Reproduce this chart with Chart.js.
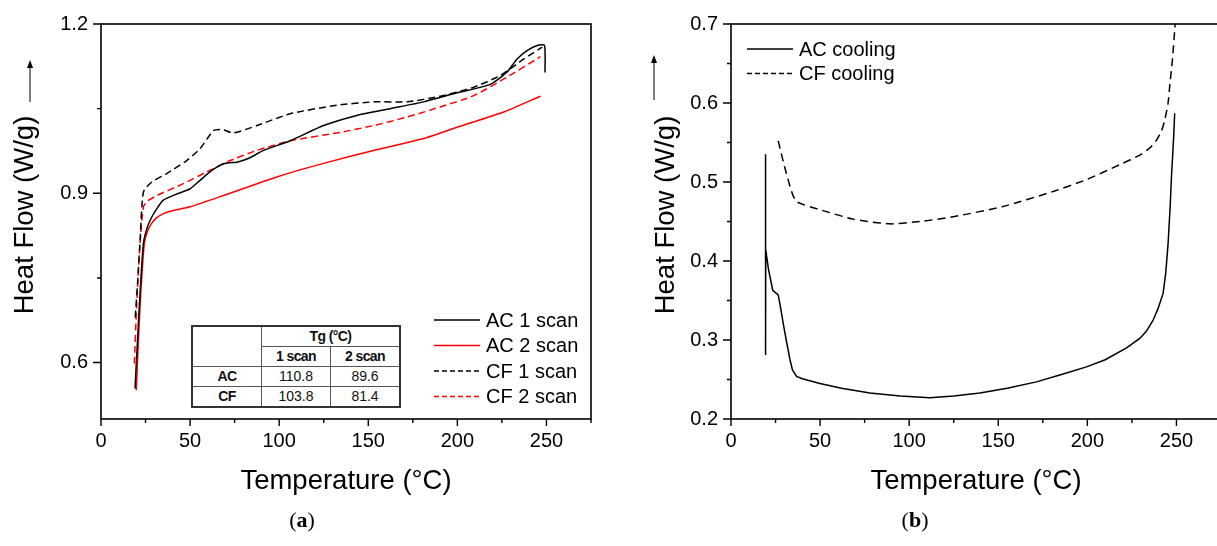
<!DOCTYPE html>
<html>
<head>
<meta charset="utf-8">
<script src="https://cdn.jsdelivr.net/npm/chart.js@4.4.1/dist/chart.umd.min.js"></script>
<style>
  html, body { margin: 0; padding: 0; background: #fff; }
  body { position: relative; width: 1217px; height: 546px; overflow: hidden; font-family: "Liberation Sans", Arial, sans-serif; }
  canvas { position: absolute; top: 0; }
  #chartA { left: 0; }
  #chartB { left: 630px; }
  .panel-label { position: absolute; top: 507px; transform: translateX(-50%); font-family: "Liberation Serif", "DejaVu Serif", serif; font-size: 22px; color: #000; }
  #tg { position: absolute; left: 191px; top: 325px; border-collapse: collapse; border: 2px solid #333; font-size: 14px; color: #111; background: #fff; }
  #tg td { border: 1px solid #555; width: 68px; height: 19px; padding: 0; text-align: center; line-height: 19px; }
  #tg .h { font-weight: bold; letter-spacing: -0.6px; }
</style>
</head>
<body>
<canvas id="chartA" width="610" height="546"></canvas>
<canvas id="chartB" width="610" height="546"></canvas>

<table id="tg">
  <tr><td rowspan="2"></td><td colspan="2" class="h">Tg (°C)</td></tr>
  <tr><td class="h">1 scan</td><td class="h">2 scan</td></tr>
  <tr><td class="h">AC</td><td>110.8</td><td>89.6</td></tr>
  <tr><td class="h">CF</td><td>103.8</td><td>81.4</td></tr>
</table>

<div class="panel-label" style="left:302px">(<b>a</b>)</div>
<div class="panel-label" style="left:915px">(<b>b</b>)</div>

<script>
// ---- panel (a): heating scans ----
const ac1Temp = [19.1, 20.5, 21.9, 23.8, 26, 28.5, 32, 35, 42, 50, 55.6, 62, 67.8, 72, 76.2, 83, 91.2, 106.2, 124.9, 143.6, 162.4, 181.1, 199.8, 218.5, 227.9, 233.5, 239.1, 244.8, 248.9, 249.2];
const ac1Flow = [0.554, 0.64, 0.722, 0.811, 0.84, 0.858, 0.876, 0.888, 0.898, 0.908, 0.923, 0.94, 0.951, 0.954, 0.955, 0.962, 0.976, 0.993, 1.020, 1.038, 1.050, 1.062, 1.078, 1.093, 1.115, 1.138, 1.153, 1.162, 1.162, 1.114];

const ac2Temp = [19.8, 21, 22.3, 24.3, 26, 28, 31, 35, 40, 50, 68.7, 98.7, 124.9, 153, 181.1, 199.8, 226, 246.6];
const ac2Flow = [0.551, 0.64, 0.722, 0.811, 0.832, 0.845, 0.856, 0.864, 0.869, 0.876, 0.896, 0.929, 0.953, 0.976, 0.997, 1.017, 1.044, 1.072];

const cf1Temp = [19.2, 20.5, 22, 23.8, 28.5, 36.9, 48.1, 55.6, 63.1, 67.8, 74.3, 87.5, 106.2, 132.4, 153, 171.7, 190.4, 209.2, 224.2, 237.3, 247.6];
const cf1Flow = [0.68, 0.74, 0.82, 0.902, 0.920, 0.935, 0.958, 0.979, 1.011, 1.013, 1.007, 1.020, 1.041, 1.056, 1.062, 1.062, 1.072, 1.088, 1.109, 1.138, 1.159];

const cf2Temp = [18.7, 20, 21.9, 23.8, 26, 31.3, 46.2, 59.4, 72.5, 87.5, 106.2, 134.3, 153, 171.7, 190.4, 209.2, 227.9, 246.6];
const cf2Flow = [0.598, 0.70, 0.811, 0.876, 0.886, 0.896, 0.917, 0.938, 0.958, 0.976, 0.993, 1.008, 1.020, 1.035, 1.053, 1.073, 1.106, 1.142];

// ---- panel (b): cooling ----
const acCoolTemp = [249, 248.5, 247.9, 247.2, 246.5, 245.3, 244, 242.5, 239.7, 236.9, 233.1, 229.4, 222, 210, 199.5, 185, 171.4, 155, 139.7, 125, 111.6, 95, 78, 62, 49.9, 40, 36.8, 34.5, 33.1, 31, 29.3, 27.5, 26.5, 23.4, 21, 19.5, 19.4, 19.4];
const acCoolFlow = [0.587, 0.56, 0.535, 0.507, 0.47, 0.422, 0.385, 0.359, 0.340, 0.325, 0.311, 0.302, 0.290, 0.275, 0.266, 0.256, 0.247, 0.239, 0.233, 0.229, 0.227, 0.229, 0.233, 0.239, 0.245, 0.251, 0.254, 0.262, 0.275, 0.300, 0.321, 0.345, 0.357, 0.363, 0.390, 0.414, 0.535, 0.281];

const cfCoolTemp = [26.5, 30, 34, 36.8, 49.9, 68.6, 89.2, 106, 124.7, 152.7, 180.8, 199.5, 218.2, 229.4, 235, 238.8, 241.5, 243.4, 245.3, 246.2, 247.7, 249, 249.8];
const cfCoolFlow = [0.552, 0.52, 0.488, 0.475, 0.465, 0.453, 0.447, 0.450, 0.456, 0.469, 0.488, 0.503, 0.522, 0.534, 0.543, 0.553, 0.564, 0.578, 0.600, 0.621, 0.654, 0.692, 0.72];

// ---- ticks ----
const xTicks = [0, 25, 50, 75, 100, 125, 150, 175, 200, 225, 250, 275];
const xLabels = ['0', '', '50', '', '100', '', '150', '', '200', '', '250', ''];
const aYTicks = [0.6, 0.75, 0.9, 1.05, 1.2];
const aYLabels = ['0.6', '', '0.9', '', '1.2'];
const bYTicks = [0.2, 0.25, 0.3, 0.35, 0.4, 0.45, 0.5, 0.55, 0.6, 0.65, 0.7];
const bYLabels = ['0.2', '', '0.3', '', '0.4', '', '0.5', '', '0.6', '', '0.7'];

Chart.defaults.font.family = '"Liberation Sans", Arial, Helvetica, sans-serif';
Chart.defaults.color = '#000';

function zip(xs, ys) {
  return xs.map((x, i) => ({ x, y: ys[i] }));
}

// frame, tick marks, y title with arrow, legend
const panelDecor = {
  id: 'panelDecor',
  afterDraw(chart, args, o) {
    const { ctx, chartArea: a, scales: { x, y } } = chart;
    ctx.save();
    ctx.strokeStyle = '#000';
    ctx.fillStyle = '#000';

    // tick marks (labelled ones longer)
    ctx.lineWidth = 1.4;
    ctx.beginPath();
    x.ticks.forEach(t => {
      const px = x.getPixelForValue(t.value);
      ctx.moveTo(px, a.bottom);
      ctx.lineTo(px, a.bottom + (t.label ? 7 : 4));
    });
    y.ticks.forEach(t => {
      const py = y.getPixelForValue(t.value);
      ctx.moveTo(a.left, py);
      ctx.lineTo(a.left - (t.label ? 8 : 4), py);
    });
    ctx.stroke();

    // box
    ctx.lineWidth = 1.6;
    ctx.strokeRect(a.left, a.top, a.right - a.left, a.bottom - a.top);

    // y title
    ctx.save();
    ctx.translate(o.titleX, 215);
    ctx.rotate(-Math.PI / 2);
    ctx.font = '27.5px "Liberation Sans", Arial, sans-serif';
    ctx.textAlign = 'center';
    ctx.textBaseline = 'middle';
    ctx.fillText('Heat Flow (W/g)', 0, 0);
    ctx.restore();

    // arrow
    ctx.lineWidth = 1;
    ctx.beginPath();
    ctx.moveTo(o.arrowX, o.arrowBottom);
    ctx.lineTo(o.arrowX, o.arrowTop + 6);
    ctx.stroke();
    ctx.beginPath();
    ctx.moveTo(o.arrowX, o.arrowTop);
    ctx.lineTo(o.arrowX - 3, o.arrowTop + 8);
    ctx.lineTo(o.arrowX + 3, o.arrowTop + 8);
    ctx.closePath();
    ctx.fill();

    // legend
    const L = o.legend;
    ctx.font = '20px "Liberation Sans", Arial, sans-serif';
    ctx.textAlign = 'left';
    ctx.textBaseline = 'middle';
    chart.data.datasets.forEach((ds, i) => {
      const ly = L.y + i * L.gap;
      ctx.strokeStyle = ds.borderColor;
      ctx.lineWidth = 1.5;
      ctx.setLineDash(ds.borderDash ? L.dash : []);
      ctx.beginPath();
      ctx.moveTo(L.x, ly);
      ctx.lineTo(L.x + L.len, ly);
      ctx.stroke();
      ctx.setLineDash([]);
      ctx.fillStyle = '#000';
      ctx.fillText(ds.label, L.x + L.len + 6, ly + 1);
    });
    ctx.restore();
  }
};

function scaleOptions(yMin, yMax, yTicks, yLabels) {
  return {
    x: {
      type: 'linear',
      min: 0,
      max: 275,
      border: { display: false },
      grid: { drawOnChartArea: false, drawTicks: true, tickLength: 7, tickColor: 'rgba(0,0,0,0)' },
      ticks: { autoSkip: false, maxRotation: 0, padding: 3, font: { size: 20 }, color: '#000',
               callback: (v, i) => xLabels[i] },
      afterBuildTicks: s => { s.ticks = xTicks.map(v => ({ value: v })); },
      afterFit: s => { s.height = 127; },
      title: { display: true, text: 'Temperature (°C)', color: '#000',
               font: { size: 27.5 }, padding: { top: 0, bottom: 48.5 } }
    },
    y: {
      type: 'linear',
      min: yMin,
      max: yMax,
      border: { display: false },
      grid: { drawOnChartArea: false, drawTicks: true, tickLength: 8, tickColor: 'rgba(0,0,0,0)' },
      ticks: { autoSkip: false, padding: 5, font: { size: 20 }, color: '#000',
               callback: (v, i) => yLabels[i] },
      afterBuildTicks: s => { s.ticks = yTicks.map(v => ({ value: v })); },
      afterFit: s => { s.width = 101; }
    }
  };
}

function baseOptions(yMin, yMax, yTicks, yLabels, decor) {
  return {
    responsive: false,
    devicePixelRatio: 1,
    animation: false,
    layout: { padding: { top: 24, right: 19, bottom: 0, left: 0 } },
    elements: { point: { radius: 0 } },
    plugins: {
      legend: { display: false },
      tooltip: { enabled: false },
      panelDecor: decor
    },
    scales: scaleOptions(yMin, yMax, yTicks, yLabels)
  };
}

new Chart(document.getElementById('chartA'), {
  type: 'scatter',
  data: {
    datasets: [
      { label: 'AC 1 scan', data: zip(ac1Temp, ac1Flow), showLine: true, borderColor: '#000', borderWidth: 1.5, tension: 0.2 },
      { label: 'AC 2 scan', data: zip(ac2Temp, ac2Flow), showLine: true, borderColor: '#ff0000', borderWidth: 1.5, tension: 0.2 },
      { label: 'CF 1 scan', data: zip(cf1Temp, cf1Flow), showLine: true, borderColor: '#000', borderWidth: 1.5, borderDash: [7, 4], tension: 0.2 },
      { label: 'CF 2 scan', data: zip(cf2Temp, cf2Flow), showLine: true, borderColor: '#ff0000', borderWidth: 1.5, borderDash: [7, 4], tension: 0.2 }
    ]
  },
  options: baseOptions(0.5, 1.2, aYTicks, aYLabels, {
    titleX: 25, arrowX: 30, arrowTop: 60, arrowBottom: 102,
    legend: { x: 434, y: 320, gap: 25.5, len: 46, dash: [5, 3] }
  }),
  plugins: [panelDecor]
});

new Chart(document.getElementById('chartB'), {
  type: 'scatter',
  data: {
    datasets: [
      { label: 'AC cooling', data: zip(acCoolTemp, acCoolFlow), showLine: true, borderColor: '#000', borderWidth: 1.5, tension: 0 },
      { label: 'CF cooling', data: zip(cfCoolTemp, cfCoolFlow), showLine: true, borderColor: '#000', borderWidth: 1.5, borderDash: [8, 5], tension: 0.2 }
    ]
  },
  options: baseOptions(0.2, 0.7, bYTicks, bYLabels, {
    titleX: 36, arrowX: 24, arrowTop: 55, arrowBottom: 100,
    legend: { x: 117, y: 49, gap: 24.5, len: 46, dash: [5, 3] }
  }),
  plugins: [panelDecor]
});
</script>
</body>
</html>
